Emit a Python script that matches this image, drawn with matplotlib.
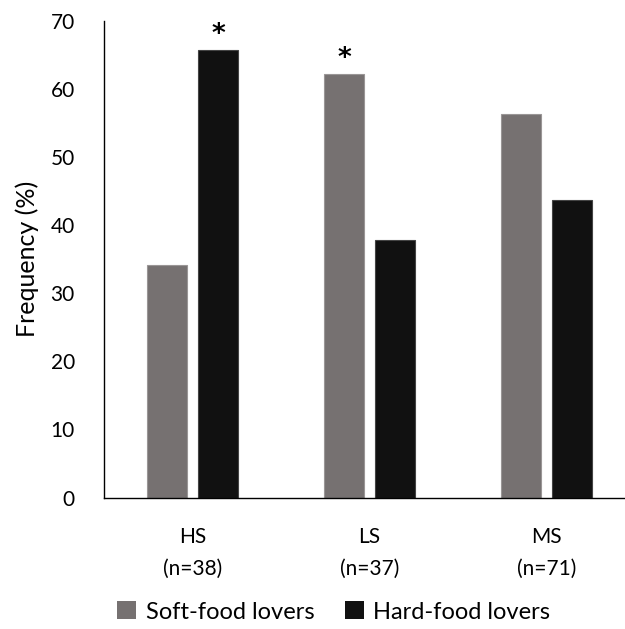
import matplotlib
matplotlib.use("Agg")
import matplotlib.pyplot as plt
import numpy as np
from matplotlib.patches import Patch

categories = ["HS\n(n=38)", "LS\n(n=37)", "MS\n(n=71)"]
soft = [34.2, 62.2, 56.3]
hard = [65.8, 37.8, 43.7]
series_names = ["Soft-food lovers", "Hard-food lovers"]
yticks = [0, 10, 20, 30, 40, 50, 60, 70]
sig_soft = [False, True, False]
sig_hard = [True, False, False]

plt.rcParams['font.family'] = ['Lato', 'DejaVu Sans']

fig = plt.figure(figsize=(6.25, 6.29), dpi=100)
ax = fig.add_axes([0.1664, 0.209, 0.85, 0.7575])

x = np.arange(len(categories))
w = 0.226
off = 0.144
c_soft = '#767171'
c_hard = '#111111'
ax.bar(x - off, soft, w, color=c_soft, edgecolor='#9a9696', linewidth=0.8)
ax.bar(x + off, hard, w, color=c_hard, edgecolor='#444444', linewidth=0.8)

for i in range(len(categories)):
    if sig_soft[i]:
        ax.text(x[i] - off, soft[i] + 0.3, '*', ha='center', va='bottom',
                fontsize=19, fontweight='bold', family='DejaVu Sans')
    if sig_hard[i]:
        ax.text(x[i] + off, hard[i] + 0.3, '*', ha='center', va='bottom',
                fontsize=19, fontweight='bold', family='DejaVu Sans')

ax.set_xlim(-0.5, 2.5)
ax.set_ylim(0, 70)
ax.set_yticks(yticks)
ax.set_xticks(x)
ax.set_xticklabels(categories, linespacing=1.75)
ax.tick_params(axis='y', length=0, pad=21, labelsize=15)
ax.tick_params(axis='x', length=0, pad=21, labelsize=15)
for s in ['top', 'right']:
    ax.spines[s].set_visible(False)
ax.spines['left'].set_linewidth(1.0)
ax.spines['bottom'].set_linewidth(1.0)
ax.spines['bottom'].set_clip_on(False)
ax.set_ylabel('Frequency (%)', fontsize=18, labelpad=8)

handles = [Patch(facecolor=c_soft, edgecolor='none'), Patch(facecolor=c_hard, edgecolor='none')]
fig.legend(handles, series_names, loc='center', bbox_to_anchor=(0.534, 0.027),
           ncol=2, frameon=False, fontsize=17, handlelength=0.8, handleheight=0.8,
           handletextpad=0.4, columnspacing=1.3)

fig.savefig('out.png', dpi=100)
